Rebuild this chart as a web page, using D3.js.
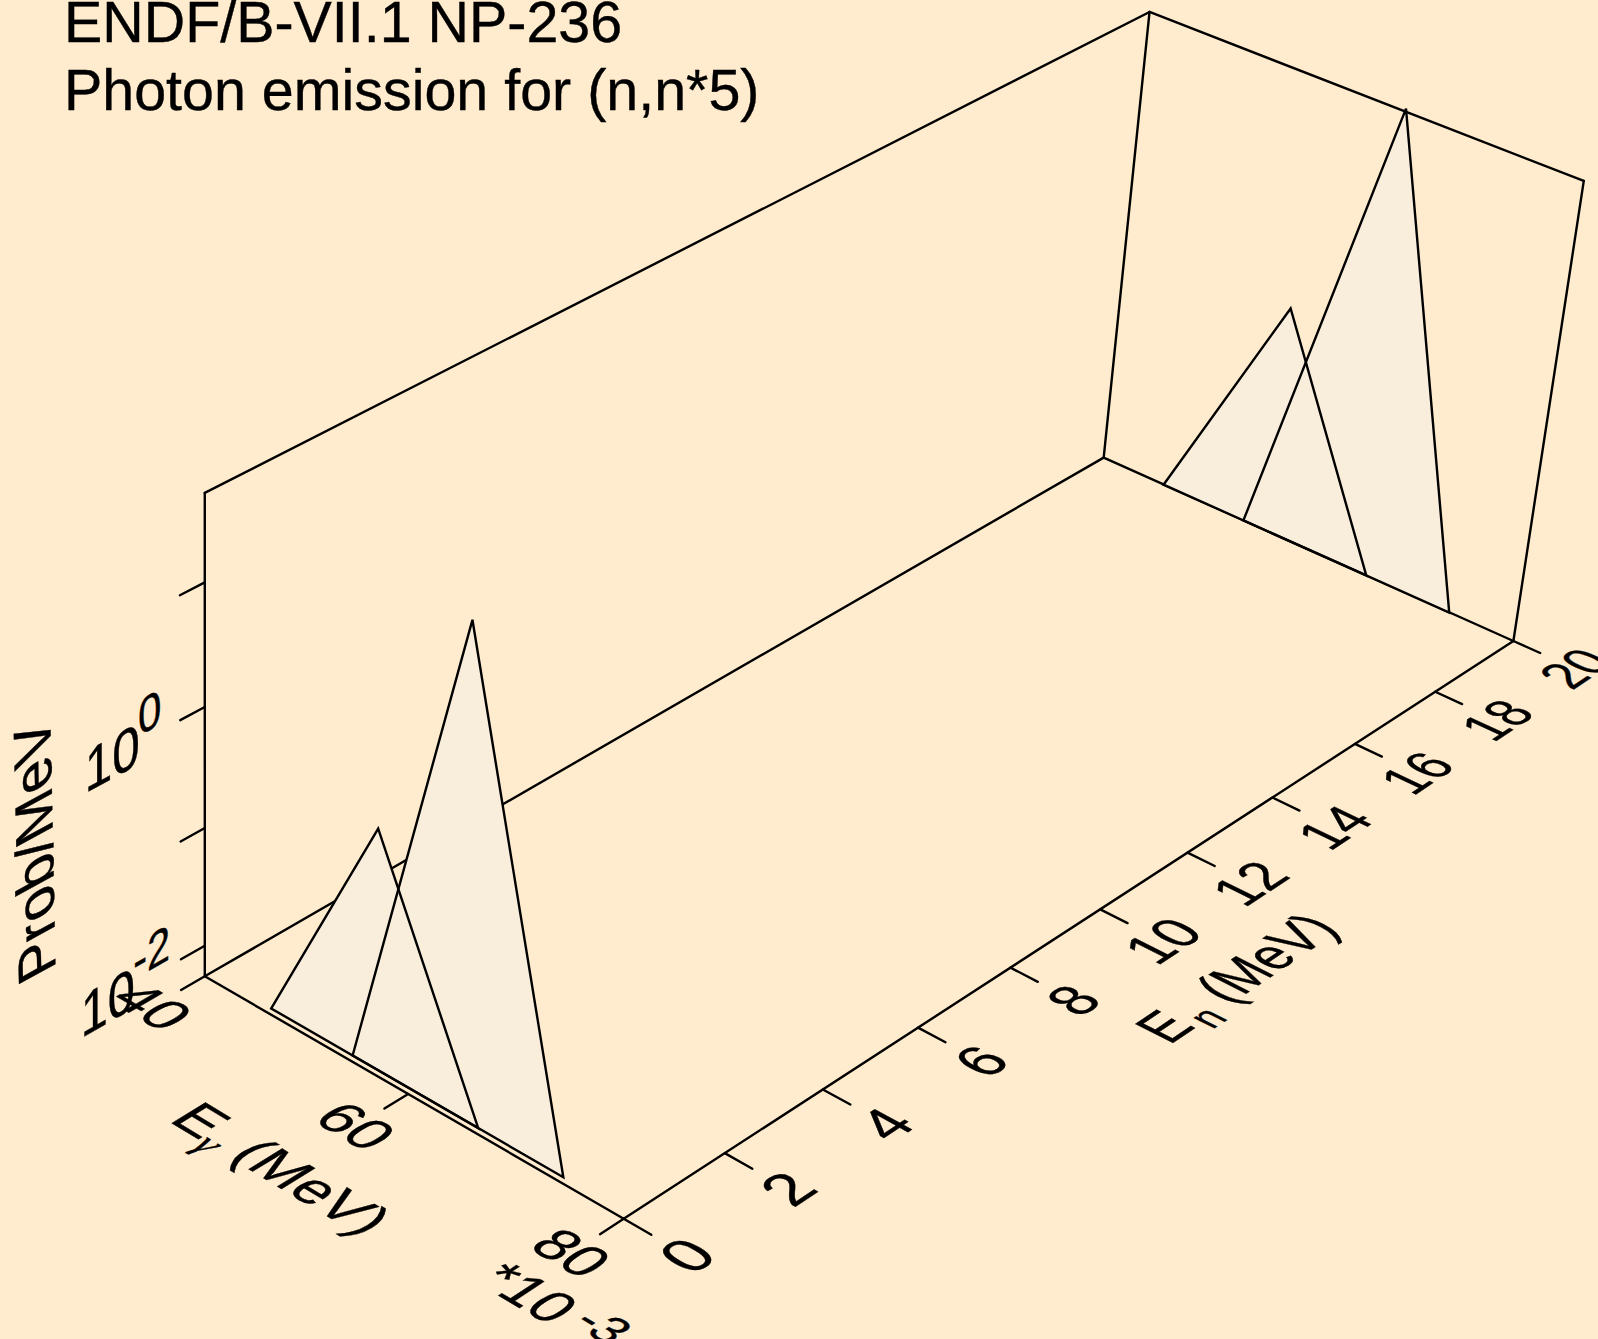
<!DOCTYPE html>
<html><head><meta charset="utf-8">
<script src="https://cdnjs.cloudflare.com/ajax/libs/d3/7.8.5/d3.min.js"></script>
<style>html,body{margin:0;padding:0;background:#FFEBCD;overflow:hidden}svg{display:block}text{font-family:"Liberation Sans",Arial,sans-serif;fill:#000;stroke:#000;stroke-width:0.4}</style>
</head><body><svg id="c" width="1598" height="1339"></svg>
<script>
// ---- data
const titleLines = ["ENDF/B-VII.1 NP-236","Photon emission for (n,n*5)"];
const enTicks = [0,2,4,6,8,10,12,14,16,18,20];
const egTicks = [40,60,80];           // keV (*10^-3 MeV)
const probTicks = [0.01,0.1,1,10];
const probLabels = [{v:0.01,exp:"-2"},{v:1,exp:"0"}];
const enSlices = [20,0.11];           // incident energies of the curves
const peak1Eg = [46.1,56.1,66.1];
const peak2Eg = [54.1,64.1,74.0];
const peak1Prob = [0.0054,0.53,0.0054];
const peak2Prob = [0.0054,53,0.0054];
const enDomain=[0,20], egDomain=[40,80], probDomain=[Math.pow(10,-2.265),Math.pow(10,1.70)];

// ---- camera calibration: screen position of the box corners
const floorCorners=[[204.8,976.3],[623.7,1218.8],[1513.4,641],[1103.7,457.6]]; // (u,v)=(0,0),(0,1),(1,1),(1,0)
const topCorners=[{u:0,v:0,p:[204.8,493.2]},{u:1,v:0,p:[1149.6,12.2]},{u:1,v:1,p:[1583.7,180.4]}];

function homography(q){ // unit square -> quad; (u,v): (0,0)=q0,(0,1)=q1,(1,1)=q2,(1,0)=q3
  const [x0,y0]=q[0],[x1,y1]=q[3],[x2,y2]=q[2],[x3,y3]=q[1];
  const dx1=x1-x2,dx2=x3-x2,sx=x0-x1+x2-x3,dy1=y1-y2,dy2=y3-y2,sy=y0-y1+y2-y3;
  const den=dx1*dy2-dx2*dy1, g=(sx*dy2-dx2*sy)/den, h=(dx1*sy-sx*dy1)/den;
  return [[x1-x0+g*x1,x3-x0+h*x3,x0],[y1-y0+g*y1,y3-y0+h*y3,y0],[g,h,1]];
}
const H=homography(floorCorners);
const hApply=(u,v)=>H.map(r=>r[0]*u+r[1]*v+r[2]);
function solve(A,b){const n=b.length,M=A.map((r,i)=>[...r,b[i]]);
  for(let i=0;i<n;i++){let p=i;for(let k=i+1;k<n;k++)if(Math.abs(M[k][i])>Math.abs(M[p][i]))p=k;[M[i],M[p]]=[M[p],M[i]];
    for(let k=0;k<n;k++)if(k!==i){const f=M[k][i]/M[i][i];for(let j=i;j<=n;j++)M[k][j]-=f*M[i][j];}}
  return M.map((r,i)=>r[n]/r[i]);}
const rows=[],rhs=[];
topCorners.forEach(t=>{const h=hApply(t.u,t.v);const [x,y]=t.p;
  rows.push([1,0,-x]);rhs.push(x*h[2]-h[0]);rows.push([0,1,-y]);rhs.push(y*h[2]-h[1]);});
const ATA=[0,1,2].map(i=>[0,1,2].map(j=>d3.sum(rows,r=>r[i]*r[j])));
const ATb=[0,1,2].map(i=>d3.sum(rows,(r,k)=>r[i]*rhs[k]));
const P3=solve(ATA,ATb);
const proj=(u,v,w)=>{const h=hApply(u,v);const d=h[2]+w*P3[2];return [(h[0]+w*P3[0])/d,(h[1]+w*P3[1])/d];};

const U=d3.scaleLinear().domain(enDomain).range([0,1]);
const V=d3.scaleLinear().domain(egDomain).range([0,1]);
const W=d3.scaleLog().domain(probDomain).range([0,1]);

const svg=d3.select("#c");
const FS=57.4, LW=2.4;
const seg=(a,b)=>svg.append("line").attr("x1",a[0]).attr("y1",a[1]).attr("x2",b[0]).attr("y2",b[1]).attr("stroke","#000").attr("stroke-width",LW).attr("stroke-linecap","round");

// title
svg.selectAll("text.title").data(titleLines).join("text").attr("class","title").attr("x",64).attr("y",(d,i)=>42+i*68).attr("font-size",FS).text(d=>d);

// box
[[[0,0,0],[0,1,0]],[[0,1,0],[1,1,0]],[[1,1,0],[1,0,0]],[[1,0,0],[0,0,0]],
 [[0,0,0],[0,0,1]],[[1,0,0],[1,0,1]],[[1,1,0],[1,1,1]],[[0,0,1],[1,0,1]],[[1,0,1],[1,1,1]]]
 .forEach(([a,b])=>seg(proj(...a),proj(...b)));

// ticks
const TU=0.023,TV=0.062;
enTicks.forEach(t=>seg(proj(U(t),1,0),proj(U(t),1+TV,0)));
egTicks.forEach(t=>seg(proj(0,V(t),0),proj(-TU,V(t),0)));
probTicks.forEach(t=>seg(proj(0,0,W(t)),proj(-TU,0,W(t))));

// curves: fills first, then outlines
const lineGen=d3.line();
const curves=[];
enSlices.forEach(en=>{
  [[peak1Eg,peak1Prob],[peak2Eg,peak2Prob]].forEach(([eg,pr])=>{
    curves.push({en,pts:eg.map((e,i)=>proj(U(en),V(e),W(pr[i])))});
  });
});
const gc=svg.append("g");
curves.forEach(c=>gc.append("path").attr("d",lineGen(c.pts)+"Z").attr("fill","#F9EDDC"));
curves.forEach(c=>gc.append("path").attr("d",lineGen(c.pts)+"Z").attr("fill","none").attr("stroke","#000").attr("stroke-width",LW).attr("stroke-linejoin","miter"));

// text lying in a plane of the box
const unit=(a,b)=>{const dx=b[0]-a[0],dy=b[1]-a[1],l=Math.hypot(dx,dy);return [dx/l,dy/l];};
const mul=(a,k)=>[a[0]*k,a[1]*k];
const len=(a,b)=>Math.hypot(b[0]-a[0],b[1]-a[1]);
function planeText(pos,ex,ey,anchor="middle"){
  return svg.append("text").attr("transform",`matrix(${ex[0]},${ex[1]},${ey[0]},${ey[1]},${pos[0]},${pos[1]})`)
    .attr("font-size",FS).attr("text-anchor",anchor).attr("dy","0.36em");
}
const dirEn=(u,v)=>unit(proj(u,v,0),proj(u+0.05,v,0));
const dirEg=(u,v)=>unit(proj(u,v,0),proj(u,v+0.05,0));
// En labels narrow with the perspective of the box
const floorEn=(u,v)=>mul(dirEn(u,v),len(proj(u,v,0),proj(u+0.1,v,0))/113);
const floorEg=(u,v)=>mul(dirEg(u,v),len(proj(u,v,0),proj(u,v+0.1,0))/48);
const neg=a=>[-a[0],-a[1]];

// En axis labels
enTicks.forEach(t=>{const u=U(t),v=1.14;planeText(proj(u,v,0),floorEn(u,v),floorEg(u,v)).text(t);});
// Eg axis labels
egTicks.forEach(t=>{const v=V(t),u=-0.05;planeText(proj(u,v,0),dirEg(u,v),neg(dirEn(u,v))).text(t);});
// En title
{const u=U(10),v=1.303;const t=planeText(proj(u,v,0),mul(floorEn(u,v),0.93),floorEg(u,v));
 t.append("tspan").text("E");t.append("tspan").attr("font-size",FS*0.72).attr("dx",6).attr("dy",12).text("n");t.append("tspan").attr("dy",-12).text(" (MeV)");}
// Eg title
{const u=-0.118,v=V(59.8);const t=planeText(proj(u,v,0),dirEg(u,v),neg(dirEn(u,v)));
 t.append("tspan").text("E");t.append("tspan").attr("font-family","Liberation Serif").attr("font-style","italic").attr("font-size",FS*0.72).attr("dy",12).text("\u03B3");t.append("tspan").attr("dy",-12).text(" (MeV)");}
// multiplier
{const u=-0.10,v=1.075;const t=planeText(proj(u,v,0),dirEg(u,v),neg(dirEn(u,v)));
 t.append("tspan").text("*10");t.append("tspan").attr("font-size",FS*0.85).attr("dx",11).attr("dy",-14).text("-3");}
// wall labels
const wallEn=(u,w)=>unit(proj(u,0,w),proj(u+0.05,0,w));
probLabels.forEach(l=>{const w=W(l.v),u=-0.076;const t=planeText(proj(u,0,w),mul(wallEn(u,w),0.98),[0,1.05]);
  t.append("tspan").text("10");t.append("tspan").attr("font-size",FS*0.85).attr("dx",-2).attr("dy",-27).text(l.exp);});
// Prob/MeV
{const u=-0.158,w=W(0.38);const ex=unit(proj(u,0,w),proj(u,0,w+0.05));const t=planeText(proj(u,0,w),ex,mul(wallEn(u,w),1.05));t.text("Prob/MeV");}
</script></body></html>
